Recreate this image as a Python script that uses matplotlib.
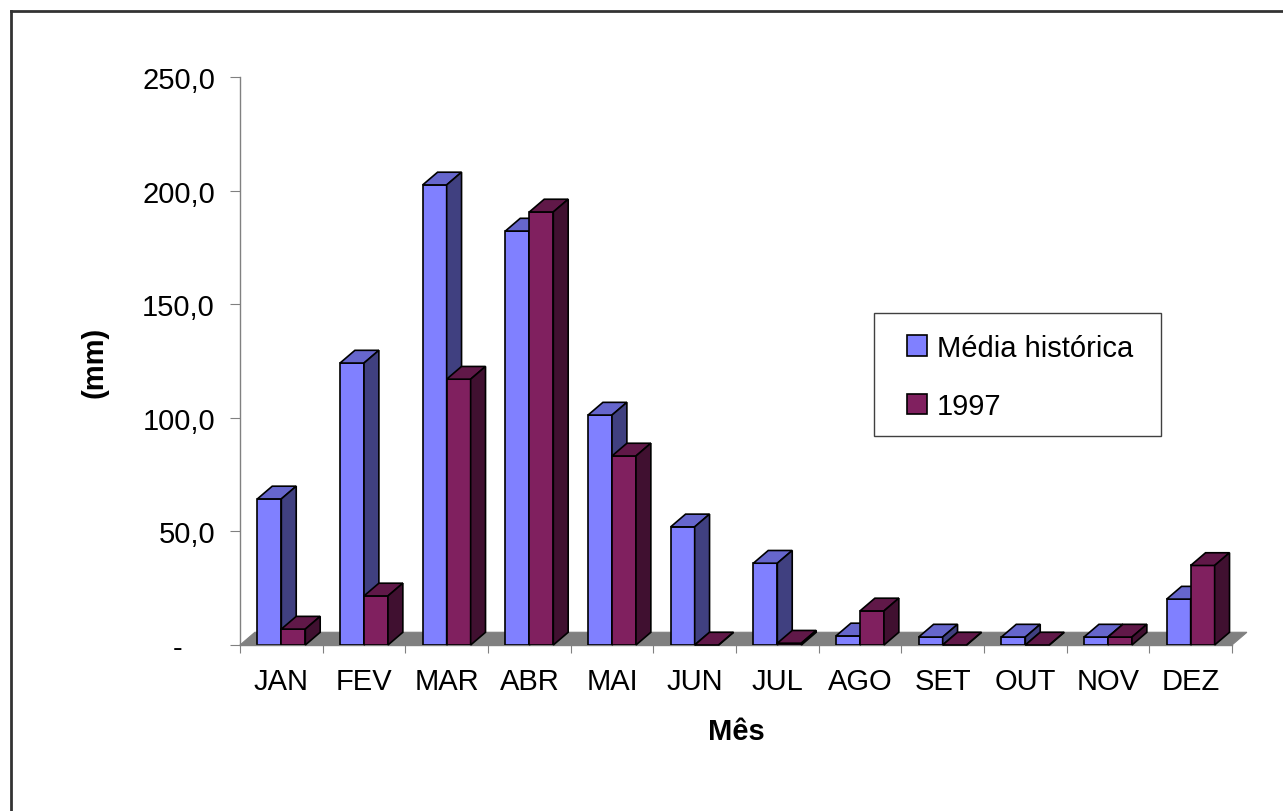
import matplotlib
matplotlib.use('Agg')
import matplotlib.pyplot as plt
import numpy as np
from matplotlib.patches import Polygon, Patch, Rectangle
from matplotlib.lines import Line2D
from matplotlib.ticker import FuncFormatter

plt.rcParams['font.family'] = ['Liberation Sans', 'DejaVu Sans']

meses = ['JAN', 'FEV', 'MAR', 'ABR', 'MAI', 'JUN', 'JUL', 'AGO', 'SET', 'OUT', 'NOV', 'DEZ']
media_historica = [64.3, 124.1, 202.5, 182.2, 101.2, 52.0, 36.0, 4.0, 3.5, 3.5, 3.5, 20.2]
chuva_1997 = [7.0, 21.6, 117.0, 190.6, 83.2, 0.0, 0.8, 15.0, 0.0, 0.0, 3.5, 35.0]
yticks = [0, 50, 100, 150, 200, 250]

# cores estilo Excel: frente, topo, lateral
CORES = {
    'Média histórica': ('#8080FF', '#6666CC', '#404080'),
    '1997': ('#80205F', '#601848', '#401030'),
}

W, H, DPI = 1283, 812, 100
BAR_W = 0.29
DX, DY = 0.18, 5.6
FS = 21


def draw_bar3d(ax, x0, h, cores, z):
    front, top, side = cores
    x1 = x0 + BAR_W
    ax.bar(x0, h, width=BAR_W, align='edge', color=front, edgecolor='black',
           linewidth=1.2, zorder=z)
    ax.add_patch(Polygon([(x0, h), (x1, h), (x1 + DX, h + DY), (x0 + DX, h + DY)],
                         closed=True, facecolor=top, edgecolor='black', linewidth=1.2,
                         zorder=z, clip_on=False))
    ax.add_patch(Polygon([(x1, 0), (x1 + DX, DY), (x1 + DX, h + DY), (x1, h)],
                         closed=True, facecolor=side, edgecolor='black', linewidth=1.2,
                         zorder=z, clip_on=False))


def fmt_y(v, pos):
    # formato contábil do Excel: zero vira um traço deslocado
    if v == 0:
        return '-    '
    return f'{v:.1f}'.replace('.', ',')


fig = plt.figure(figsize=(W / DPI, H / DPI), dpi=DPI)
ax = fig.add_axes([240 / W, (H - 646) / H, 992 / W, 568 / H])
n = len(meses)

# piso cinza
ax.add_patch(Polygon([(0, 0), (n, 0), (n + DX, DY), (DX, DY)], closed=True,
                     facecolor='#808080', edgecolor='#808080', linewidth=0.8,
                     zorder=1, clip_on=False))

z = 2
for i in range(n):
    c = i + 0.5
    draw_bar3d(ax, c - BAR_W, media_historica[i], CORES['Média histórica'], z)
    draw_bar3d(ax, c, chuva_1997[i], CORES['1997'], z + 1)
    z += 2

ax.set_xlim(0, n)
ax.set_ylim(0, 250)
for s in ['top', 'right']:
    ax.spines[s].set_visible(False)
for s in ['left', 'bottom']:
    ax.spines[s].set_color('#808080')
    ax.spines[s].set_linewidth(1.0)

ax.set_xticks(np.arange(n + 1))
ax.set_xticklabels([])
ax.set_xticks(np.arange(n) + 0.5, minor=True)
ax.set_xticklabels(meses, minor=True, fontsize=FS)
ax.tick_params(axis='x', which='major', direction='out', length=6, color='#808080')
ax.tick_params(axis='x', which='minor', length=0, pad=16)

ax.set_yticks(yticks)
ax.yaxis.set_major_formatter(FuncFormatter(fmt_y))
ax.tick_params(axis='y', direction='out', length=7, color='#808080', pad=11, labelsize=FS)

ax.set_ylabel('(mm)', fontsize=FS, fontweight='bold')
ax.yaxis.set_label_coords(-0.133, 0.5)
ax.set_xlabel('Mês', fontsize=FS, fontweight='bold')
ax.xaxis.set_label_coords(0.5, -0.127)

# legenda
fig.patches.append(Rectangle((874 / W, (H - 437) / H), 287 / W, 123 / H, transform=fig.transFigure,
                             facecolor='white', edgecolor='#404040', linewidth=1.0, zorder=5))
handles = [Patch(facecolor=CORES[k][0], edgecolor='black', linewidth=1.2) for k in CORES]
fig.legend(handles, list(CORES.keys()), loc='center', bbox_to_anchor=(1020 / W, (H - 378) / H),
           frameon=False, fontsize=FS, handlelength=0.7, handleheight=0.7,
           handletextpad=0.35, labelspacing=1.05)

# moldura do gráfico
fig.add_artist(Line2D([11 / W, 11 / W], [0, (H - 12) / H], transform=fig.transFigure,
                      color='#333333', linewidth=2.0))
fig.add_artist(Line2D([11 / W, 1], [(H - 12) / H, (H - 12) / H], transform=fig.transFigure,
                      color='#333333', linewidth=2.0))

fig.savefig('out.png', dpi=DPI, facecolor='white')
